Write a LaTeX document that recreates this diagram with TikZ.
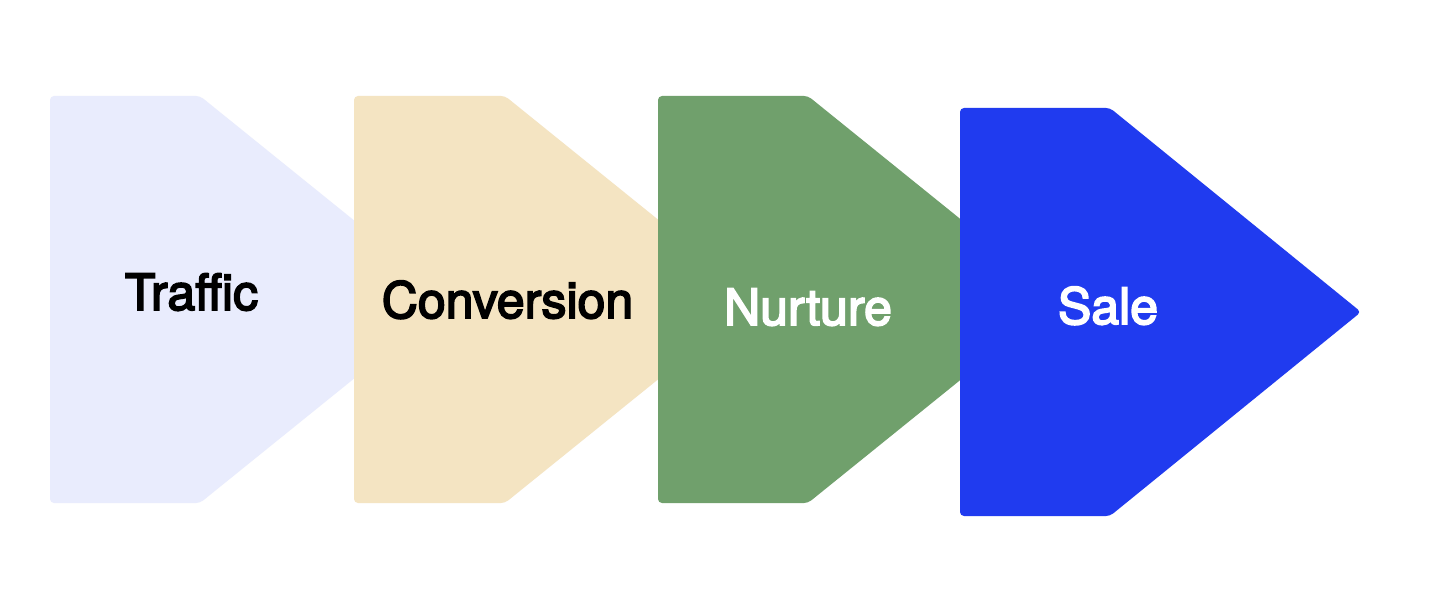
\documentclass[tikz,border=0pt]{standalone}
\usepackage{fontspec}
\setmainfont{TeX Gyre Heros}
\newfontfamily\lblfont{TeX Gyre Heros}[FakeBold=3.5]
\definecolor{cTraffic}{HTML}{E9ECFD}
\definecolor{cConv}{HTML}{F4E4C2}
\definecolor{cNurt}{HTML}{70A06C}
\definecolor{cSale}{HTML}{203BEF}
\tikzset{
  stage/.style={rounded corners=4pt},
  lbl/.style={anchor=base, inner sep=0pt, font=\lblfont\fontsize{50}{60}\selectfont}
}
\begin{document}
\begin{tikzpicture}[x=1pt,y=-1pt]
\useasboundingbox (0,0) rectangle (1429,612);
\fill[white] (0,0) rectangle (1429,612);
\fill[cTraffic,stage] (50,96) -- (200,96) -- (452,299.5) -- (200,503) -- (50,503) -- cycle;
\fill[cConv,stage] (354,96) -- (505,96) -- (757,299.5) -- (505,503) -- (354,503) -- cycle;
\fill[cNurt,stage] (658,96) -- (808,96) -- (1060,299.5) -- (808,503) -- (658,503) -- cycle;
\fill[cSale,stage] (960,108) -- (1110,108) -- (1361,312) -- (1110,516) -- (960,516) -- cycle;
\node[lbl,text=black] (traffic) at (191.5,310) {Traffic};
\node[lbl,text=black] (conversion) at (507.5,318) {Conversion};
\node[lbl,text=white] (nurture) at (808,325) {Nurture};
\node[lbl,text=white] (sale) at (1108,324) {Sale};
\end{tikzpicture}
\end{document}
